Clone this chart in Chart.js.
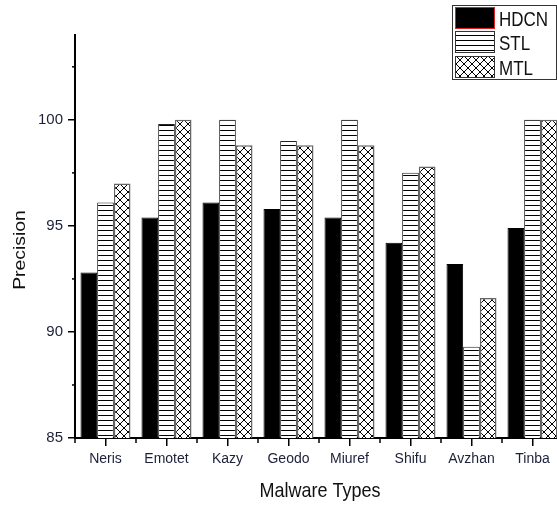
<!DOCTYPE html>
<html>
<head>
<meta charset="utf-8">
<script src="https://cdn.jsdelivr.net/npm/chart.js@4.4.0/dist/chart.umd.min.js"></script>
<style>
  html, body { margin: 0; padding: 0; background: #fff; overflow: hidden; }
  #wrap { width: 570px; height: 506px; }
</style>
</head>
<body>
<div id="wrap"><canvas id="chart" width="570" height="506"></canvas></div>
<script>
// Data
const categories = ['Neris', 'Emotet', 'Kazy', 'Geodo', 'Miuref', 'Shifu', 'Avzhan', 'Tinba'];
const hdcn = [92.8, 95.4, 96.1, 95.8, 95.4, 94.2, 93.2, 94.9];
const stl = [96.1, 99.8, 100, 99.0, 100, 97.5, 89.3, 100];
const mtl = [97.0, 100, 98.8, 98.8, 98.8, 97.8, 91.6, 100];
const yMajorTicks = [85, 90, 95, 100];
const yMinorTicks = [87.5, 92.5, 97.5, 102.5];
const yMin = 85;
const yMax = 104;

const FONT = "'Liberation Sans', Arial, sans-serif";
const LABEL_COLOR = '#1c2038';

// Fill patterns
function stripes() {
  const c = document.createElement('canvas');
  c.width = 8; c.height = 5;
  const g = c.getContext('2d');
  g.fillStyle = '#fff'; g.fillRect(0, 0, 8, 5);
  g.fillStyle = '#000'; g.fillRect(0, 0, 8, 1);
  return g.createPattern(c, 'repeat');
}

function crosshatch() {
  const s = 8;
  const c = document.createElement('canvas');
  c.width = s; c.height = s;
  const g = c.getContext('2d');
  g.fillStyle = '#fff'; g.fillRect(0, 0, s, s);
  g.strokeStyle = '#000'; g.lineWidth = 1;
  g.beginPath();
  g.moveTo(0, 0); g.lineTo(s, s);
  g.moveTo(s, 0); g.lineTo(0, s);
  g.stroke();
  return g.createPattern(c, 'repeat');
}

// text that is a bit taller than the font, like the reference
function tallText(ctx, text, x, y, stretch, angle) {
  ctx.save();
  ctx.translate(x, y);
  if (angle) ctx.rotate(angle);
  if (angle) ctx.scale(stretch, 1); else ctx.scale(1, stretch);
  ctx.fillText(text, 0, 0);
  ctx.restore();
}

// Minor ticks, axis titles and the boxed legend
const decorations = {
  id: 'decorations',
  afterDraw(chart) {
    const { ctx, chartArea } = chart;
    const x = chart.scales.x, y = chart.scales.y;
    ctx.save();
    ctx.strokeStyle = '#000';
    ctx.lineWidth = 1.5;

    yMinorTicks.forEach(v => {
      const py = y.getPixelForValue(v);
      ctx.beginPath();
      ctx.moveTo(chartArea.left - 3, py);
      ctx.lineTo(chartArea.left, py);
      ctx.stroke();
    });

    const step = x.getPixelForValue(1) - x.getPixelForValue(0);
    for (let i = 0; i <= categories.length; i++) {
      const px = x.getPixelForValue(0) - step / 2 + i * step;
      ctx.beginPath();
      ctx.moveTo(px, chartArea.bottom);
      ctx.lineTo(px, chartArea.bottom + 5);
      ctx.stroke();
    }

    // axis titles
    ctx.fillStyle = '#111';
    ctx.textAlign = 'center';
    ctx.textBaseline = 'alphabetic';
    ctx.font = '18px ' + FONT;
    tallText(ctx, 'Malware Types', 320, 497, 1.1);
    ctx.font = '17px ' + FONT;
    tallText(ctx, 'Precision', 25, 250, 1.14, -Math.PI / 2);

    // legend
    ctx.lineWidth = 1;
    ctx.strokeStyle = '#333';
    ctx.strokeRect(452.5, 5.5, 104, 74);
    const rows = [8, 32, 57];
    ctx.font = '17px ' + FONT;
    ctx.textAlign = 'left';
    chart.data.datasets.forEach((ds, i) => {
      const top = rows[i];
      ctx.fillStyle = ds.backgroundColor;
      ctx.fillRect(456, top, 38, 20);
      ctx.strokeStyle = i === 0 ? '#e02020' : '#333';
      ctx.strokeRect(455.5, top - 0.5, 39, 21);
      ctx.fillStyle = '#111';
      tallText(ctx, ds.label, 499, top + 18, 1.2);
    });
    ctx.restore();
  }
};

new Chart(document.getElementById('chart'), {
  type: 'bar',
  data: {
    labels: categories,
    datasets: [
      { label: 'HDCN', data: hdcn, backgroundColor: '#000', borderColor: '#000', borderWidth: 1 },
      { label: 'STL', data: stl, backgroundColor: stripes(), borderColor: '#222', borderWidth: 1 },
      { label: 'MTL', data: mtl, backgroundColor: crosshatch(), borderColor: '#666', borderWidth: 1.5 }
    ]
  },
  options: {
    responsive: false,
    animation: false,
    layout: { padding: { top: 35, right: 7, left: 0, bottom: 0 } },
    datasets: { bar: { categoryPercentage: 0.82, barPercentage: 1 } },
    plugins: { legend: { display: false }, tooltip: { enabled: false } },
    scales: {
      x: {
        grid: { display: true, drawOnChartArea: false, offset: false, tickLength: 8, color: '#000', lineWidth: 1.5 },
        border: { display: true, color: '#000', width: 2 },
        ticks: { color: LABEL_COLOR, font: { family: FONT, size: 14 }, padding: 5, maxRotation: 0, autoSkip: false },
        afterFit(s) { s.height = 68; }
      },
      y: {
        min: yMin,
        max: yMax,
        grid: { display: true, drawOnChartArea: false, tickLength: 7, color: '#000', lineWidth: 1.5 },
        border: { display: true, color: '#000', width: 2 },
        ticks: { color: LABEL_COLOR, font: { family: FONT, size: 15 }, padding: 5 },
        afterBuildTicks(s) { s.ticks = yMajorTicks.map(v => ({ value: v })); },
        afterFit(s) { s.width = 75; }
      }
    }
  },
  plugins: [decorations]
});
</script>
</body>
</html>
